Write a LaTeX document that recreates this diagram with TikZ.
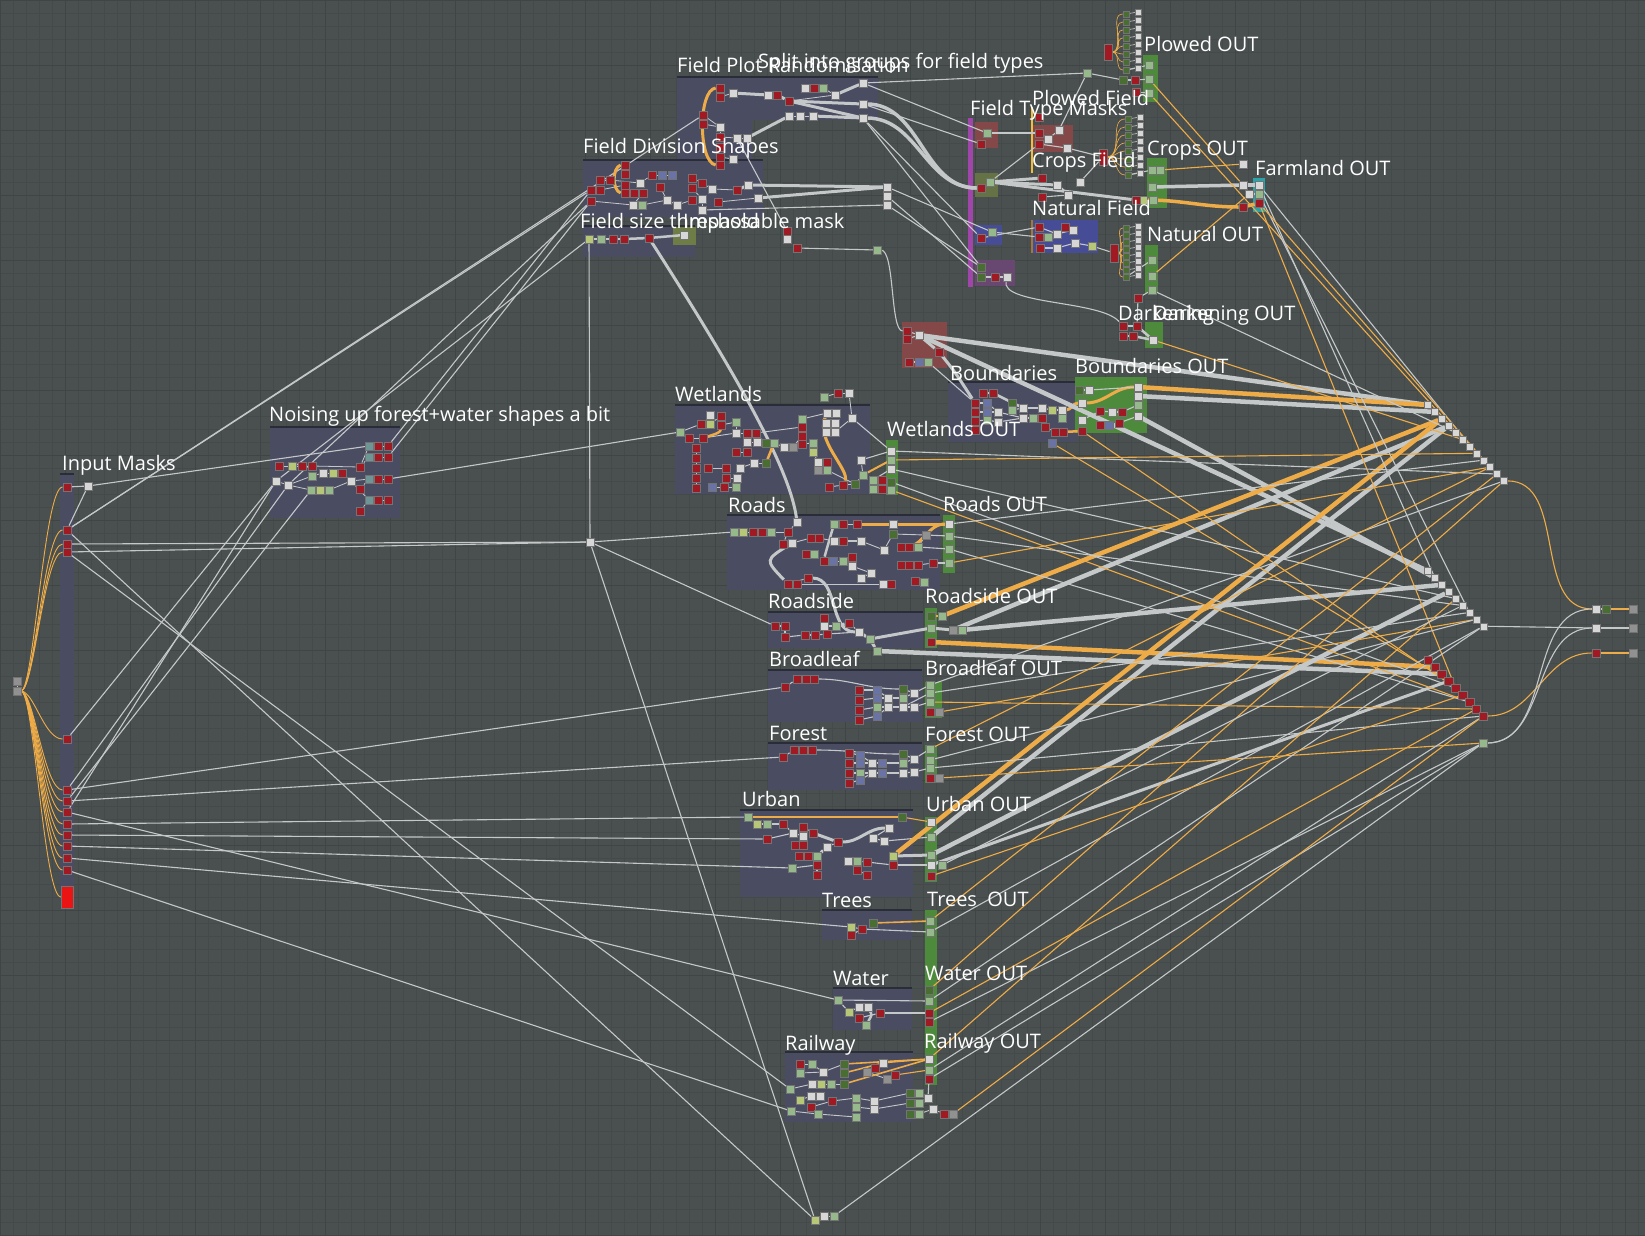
\documentclass[tikz,border=0pt]{standalone}
\usepackage{fontspec}
\setmainfont{Open Sans}
\usetikzlibrary{positioning}
\definecolor{canvas}{RGB}{74,80,79}
\definecolor{gridln}{RGB}{68,74,73}
\definecolor{gridmaj}{RGB}{63,69,68}
\definecolor{framebg}{RGB}{74,76,98}
\definecolor{framedark}{RGB}{42,44,56}
\definecolor{nodered}{RGB}{160,25,35}
\definecolor{hotred}{RGB}{235,20,20}
\definecolor{nodewhite}{RGB}{215,215,215}
\definecolor{nodegreen}{RGB}{150,185,140}
\definecolor{nodedark}{RGB}{72,110,50}
\definecolor{nodeolive}{RGB}{182,200,120}
\definecolor{nodeblue}{RGB}{105,115,165}
\definecolor{nodegrey}{RGB}{145,145,145}
\definecolor{nodeteal}{RGB}{110,150,150}
\definecolor{outgreen}{RGB}{78,138,60}
\definecolor{farmteal}{RGB}{40,165,170}
\definecolor{boxred}{RGB}{132,72,72}
\definecolor{boxolive}{RGB}{100,114,70}
\definecolor{boxblue}{RGB}{70,76,150}
\definecolor{boxpurple}{RGB}{104,72,112}
\definecolor{barpurple}{RGB}{160,70,170}
\definecolor{olivebox}{RGB}{110,125,70}
\definecolor{wiregrey}{RGB}{196,200,200}
\definecolor{wireorange}{RGB}{238,172,72}
\pgfdeclarelayer{back}
\pgfdeclarelayer{wires}
\pgfsetlayers{back,wires,main}
\newcommand{\frmbox}[4]{%
  \fill[framebg] (#1,#2) rectangle (#3,#4);
  \draw[framedark,line width=1.2pt] (#1,#2) -- (#3,#2);}

\begin{document}
\begin{tikzpicture}[x=1pt,y=-1pt,
    sq/.style={draw=black!55,line width=.3pt,inner sep=0pt,minimum size=7.5pt},
    rd/.style={sq,fill=nodered,minimum size=8.5pt},
    wt/.style={sq,fill=nodewhite},
    gn/.style={sq,fill=nodegreen},
    dg/.style={sq,fill=nodedark},
    ol/.style={sq,fill=nodeolive},
    bl/.style={sq,fill=nodeblue},
    gy/.style={sq,fill=nodegrey},
    tl/.style={sq,fill=nodeteal},
    ttl/.style={text=white,font=\fontsize{20}{24}\selectfont,anchor=base west,inner sep=0pt},
    wire/.style={draw=wiregrey,line width=1.1pt},
    fat/.style={draw=wiregrey,line width=4.5pt},
    owire/.style={draw=wireorange,line width=1.1pt},
    ofat/.style={draw=wireorange,line width=4.5pt}
  ]
  \useasboundingbox (0,0) rectangle (1645,1235);

  % canvas, grid, frames
  \begin{pgfonlayer}{back}
    \fill[canvas] (0,0) rectangle (1645,1235);
    \foreach \g in {0,13,...,1645} \draw[gridln,line width=.5pt] (\g,0) -- (\g,1235);
    \foreach \g in {0,13,...,1235} \draw[gridln,line width=.5pt] (0,\g) -- (1645,\g);
    \foreach \g in {0,65,...,1645} \draw[gridmaj,line width=.8pt] (\g,0) -- (\g,1235);
    \foreach \g in {0,65,...,1235} \draw[gridmaj,line width=.8pt] (0,\g) -- (1645,\g);
    \frmbox{60}{474}{74}{902}
    \frmbox{270}{427}{400}{518}
    \frmbox{677}{77}{752}{205}
    \frmbox{752}{77}{878}{120}
    \frmbox{583}{160}{763}{217}
    \frmbox{583}{226}{695}{257}
    \frmbox{675}{405}{870}{494}
    \frmbox{948}{382}{1077}{442}
    \frmbox{727}{515}{940}{590}
    \frmbox{768}{612}{923}{648}
    \frmbox{768}{670}{922}{722}
    \frmbox{768}{743}{922}{790}
    \frmbox{740}{810}{913}{897}
    \frmbox{822}{910}{912}{940}
    \frmbox{833}{988}{912}{1030}
    \frmbox{785}{1052}{913}{1122}
    \fill[olivebox] (673,227) rectangle (696,245);
    % field type masks
    \fill[barpurple] (968,118) rectangle (973,287);
    \fill[boxred] (975,122) rectangle (998,148);
    \fill[boxolive] (975,173) rectangle (998,197);
    \fill[boxblue] (975,225) rectangle (1002,245);
    \fill[boxpurple] (975,260) rectangle (1015,286);
    \fill[boxred] (1033,125) rectangle (1073,152);
    \draw[wireorange!80!yellow,line width=2pt] (1032,107) -- (1032,173);
    \fill[boxblue] (1032,220) rectangle (1098,253);
    \draw[wireorange!70!black,line width=2pt] (1032,220) -- (1032,253);
    \fill[boxred] (902,322) rectangle (947,368);
    % OUT panels
    \fill[outgreen] (1143,55) rectangle (1158,102);
    \fill[outgreen] (1147,158) rectangle (1167,208);
    \fill[outgreen] (1145,245) rectangle (1158,293);
    \fill[outgreen] (1145,322) rectangle (1163,348);
    \fill[farmteal] (1253,178) rectangle (1265,212);
    \fill[outgreen] (1075,377) rectangle (1147,433);
    \fill[outgreen] (886,440) rectangle (898,495);
    \fill[outgreen] (943,515) rectangle (955,573);
    \fill[outgreen] (925,608) rectangle (937,648);
    \fill[outgreen] (925,682) rectangle (942,718);
    \fill[outgreen] (925,745) rectangle (937,783);
    \fill[outgreen] (925,817) rectangle (937,882);
    \fill[outgreen] (925,910) rectangle (937,1085);
  \end{pgfonlayer}

  % Input Masks
  \foreach \y [count=\i] in {487,530,544,552,739,790,801,812,824,835,846,858,870}
    \node[rd] (im\i) at (67,\y) {};
  \node[sq,fill=hotred,minimum width=12pt,minimum height=22pt] (imout) at (67,897) {};
  \node[wt] (imw) at (88,486) {};
  \node[gy] (src1) at (17,681) {};
  \node[gy] (src2) at (17,691) {};

  % Noising
  \foreach \x/\y/\s [count=\i] in {279/466/rd,292/466/ol,302/466/rd,312/466/rd,276/481/wt,
      288/485/wt,312/476/gn,323/473/wt,333/473/ol,342/473/rd,311/490/gn,320/490/ol,329/490/gn,
      351/481/wt,360/467/rd,360/489/rd,360/511/rd,369/446/tl,378/446/rd,388/446/rd,369/457/tl,
      378/457/rd,388/457/rd,369/479/tl,378/479/rd,388/479/rd,369/500/tl,378/500/rd,388/500/rd}
    \node[\s] (nz\i) at (\x,\y) {};

  % Field Plot Randomisation / Split
  \foreach \x/\y/\s [count=\i] in {720/88/rd,720/97/rd,733/93/wt,703/115/rd,703/124/rd,
      720/127/wt,720/137/rd,720/147/rd,720/157/rd,720/165/rd,733/159/wt,737/138/wt,747/138/wt}
    \node[\s] (pl\i) at (\x,\y) {};
  \foreach \x/\y/\s [count=\i] in {768/95/wt,777/95/rd,789/101/rd,805/88/wt,814/88/rd,
      823/88/gn,835/95/wt,789/116/wt,800/116/wt,813/116/wt,863/83/wt,863/104/wt,863/118/wt}
    \node[\s] (sp\i) at (\x,\y) {};

  % Field Division Shapes / size threshold / impassable
  \foreach \x/\y/\s [count=\i] in {600/180/rd,610/180/rd,591/190/rd,600/190/rd,591/201/rd,
      625/165/rd,625/174/rd,625/185/rd,625/193/rd,634/193/rd,643/193/rd,652/175/rd,660/187/rd,
      640/183/wt,633/205/wt,642/205/gn,662/175/bl,672/175/bl,667/200/wt,677/205/wt,692/178/rd,
      692/188/rd,692/200/rd,702/183/rd,702/199/wt,702/210/wt,712/189/wt,718/202/rd,737/190/rd,
      748/185/wt,758/198/wt}
    \node[\s] (dv\i) at (\x,\y) {};
  \foreach \y [count=\i] in {187,196,205} \node[wt] (dr\i) at (887,\y) {};
  \foreach \x/\y/\s [count=\i] in {589/239/ol,601/239/gn,613/239/rd,624/239/rd,649/238/rd,684/235/wt}
    \node[\s] (sz\i) at (\x,\y) {};
  \foreach \x/\y/\s [count=\i] in {787/231/rd,787/239/wt,797/248/rd,877/250/gn}
    \node[\s] (ip\i) at (\x,\y) {};

  % Field Type Masks and fields
  \foreach \x/\y/\s [count=\i] in {987/133/gn,981/144/rd,990/182/gn,981/188/rd,992/232/gn,
      981/238/rd,981/267/dg,981/277/dg,995/277/rd,1007/277/wt}
    \node[\s] (ft\i) at (\x,\y) {};
  \foreach \x/\y/\s [count=\i] in {1039/117/rd,1039/133/rd,1039/144/rd,1048/139/wt,1059/130/wt,1067/148/wt}
    \node[\s] (pf\i) at (\x,\y) {};
  \foreach \x/\y/\s [count=\i] in {1042/178/rd,1042/197/rd,1057/185/wt,1068/195/wt,1080/182/wt}
    \node[\s] (cf\i) at (\x,\y) {};
  \node[rd,minimum height=16pt] (cfr) at (1103,157) {};
  \foreach \x/\y/\s [count=\i] in {1039/227/rd,1039/237/rd,1040/248/rd,1065/227/rd,1048/237/gn,
      1057/234/wt,1073/230/wt,1057/248/wt,1075/243/wt,1092/246/ol}
    \node[\s] (nf\i) at (\x,\y) {};
  \node[rd,minimum height=18pt] (nfr) at (1114,253) {};

  % OUT columns (plowed, crops, natural)
  \foreach \k in {0,...,7} {
    \node[wt,minimum size=6pt] (pw\k) at (1138,{12+8*\k}) {};
    \node[dg,minimum size=6pt] (pg\k) at (1126,{14+8*\k}) {};
    \node[wt,minimum size=6pt] (cw\k) at (1140,{117+8*\k}) {};
    \node[dg,minimum size=6pt] (cg\k) at (1128,{119+8*\k}) {};
    \node[wt,minimum size=6pt] (nw\k) at (1138,{226+7*\k}) {};
    \node[dg,minimum size=6pt] (ng\k) at (1126,{228+7*\k}) {};
  }
  \node[rd,minimum height=16pt] (pr) at (1108,52) {};
  \node[gn] (po1) at (1149,65) {};
  \node[gn] (po2) at (1149,79) {};
  \node[gn] (po3) at (1149,93) {};
  \node[dg] (pgx) at (1123,80) {};
  \node[rd] (prx) at (1135,80) {};
  \node[rd] (pry) at (1136,92) {};
  \node[gn] (pq) at (1087,73) {};
  \node[gn] (co1) at (1152,170) {};
  \node[gn] (co2) at (1160,170) {};
  \node[gn] (co3) at (1152,187) {};
  \node[ol] (co4) at (1143,200) {};
  \node[gn] (co5) at (1153,200) {};
  \node[rd] (crd) at (1136,200) {};
  \node[gn] (no1) at (1152,260) {};
  \node[gn] (no2) at (1152,276) {};
  \node[gn] (no3) at (1152,290) {};
  \node[rd] (nrd) at (1138,298) {};
  % Farmland
  \node[wt] (fw1) at (1243,164) {};
  \node[wt] (fw2) at (1243,185) {};
  \node[wt] (fw3) at (1249,194) {};
  \node[rd] (fw4) at (1243,207) {};
  \node[wt] (fa1) at (1259,185) {};
  \node[gn] (fa2) at (1259,194) {};
  \node[rd] (fa3) at (1259,203) {};
  % Darkening
  \node[rd] (dk1) at (1123,326) {};
  \node[rd] (dk2) at (1137,326) {};
  \node[rd] (dk3) at (1123,336) {};
  \node[rd] (dk4) at (1133,336) {};
  \node[wt] (dko) at (1153,340) {};

  % red box, Boundaries
  \foreach \x/\y/\s [count=\i] in {907/331/rd,907/339/rd,919/335/wt,939/352/rd,909/362/rd,919/362/bl,928/362/gn}
    \node[\s] (rb\i) at (\x,\y) {};
  \foreach \x/\y/\s [count=\i] in {983/393/rd,993/393/rd,975/403/rd,975/412/rd,975/421/rd,
      975/430/rd,987/403/bl,987/412/bl,987/420/gn,998/412/wt,998/422/wt,1012/403/dg,1012/410/gn,
      1023/408/wt,1023/418/wt,1033/418/gn,1042/408/wt,1042/418/rd,1045/427/rd,1055/432/rd,
      1063/432/rd,1052/410/ol,1062/410/wt,1062/418/gn,1052/443/bl}
    \node[\s] (bd\i) at (\x,\y) {};
  \foreach \x/\y/\s [count=\i] in {1079/390/dg,1089/390/wt,1082/403/wt,1082/420/wt,1082/431/rd,
      1100/411/rd,1100/425/rd,1112/412/wt,1109/425/bl,1122/412/rd,1119/423/rd}
    \node[\s] (bx\i) at (\x,\y) {};
  \foreach \y/\s [count=\i] in {387/wt,396/wt,405/gn,416/wt}
    \node[\s] (bo\i) at (1138,\y) {};

  % Wetlands
  \foreach \x/\y/\s [count=\i] in {680/432/gn,710/415/wt,701/424/rd,710/424/ol,721/416/rd,
      721/425/rd,736/422/gn,689/438/rd,703/438/rd,696/448/rd,696/458/rd,696/468/rd,696/478/rd,
      696/488/rd,736/433/wt,747/433/rd,756/433/rd,747/442/wt,757/442/wt,736/452/rd,747/452/rd,
      708/468/rd,726/468/rd,740/468/wt,726/478/rd,737/478/wt,712/487/bl,724/487/rd,736/487/gn,
      754/463/wt,766/463/dg,766/443/dg,774/443/gn,784/447/wt,793/447/gy,802/427/rd,802/436/rd,
      802/444/rd,813/443/gn,813/452/ol,818/462/wt,827/462/rd,818/470/gy,827/470/gn,829/487/rd,
      843/485/rd,855/484/dg,863/475/gn,861/460/wt,873/480/gn,873/489/gn,882/480/rd,882/489/rd,
      824/397/gn,838/393/rd,849/393/wt,827/413/wt,836/413/wt,826/423/wt,835/423/wt,826/432/wt,
      835/432/wt,852/418/wt,802/419/gn}
    \node[\s] (wl\i) at (\x,\y) {};
  \foreach \y/\s [count=\i] in {451/wt,460/gn,469/wt,482/dg,490/gn}
    \node[\s] (wo\i) at (891,\y) {};

  % Roads
  \foreach \x/\y/\s [count=\i] in {734/532/gn,743/532/ol,753/532/rd,762/532/rd,771/532/gn,
      788/532/rd,797/522/wt,783/544/rd,792/543/wt,811/538/rd,819/538/rd,834/524/gn,843/524/rd,
      857/524/rd,893/524/wt,834/541/wt,843/541/rd,861/541/wt,806/554/rd,814/554/gn,824/561/rd,
      833/561/bl,843/561/gn,852/557/rd,852/566/wt,871/573/wt,861/578/wt,808/578/rd,788/584/rd,
      797/584/rd,883/584/wt,891/584/rd,884/550/wt,893/534/dg,926/535/gy,901/547/rd,909/547/rd,
      918/547/gn,901/565/rd,909/565/rd,918/565/rd,933/563/rd,915/581/rd,924/582/gn}
    \node[\s] (rw\i) at (\x,\y) {};
  \foreach \y/\s [count=\i] in {524/wt,536/gn,549/gn,563/gn}
    \node[\s] (rwo\i) at (949,\y) {};

  % Roadside
  \foreach \x/\y/\s [count=\i] in {775/626/rd,785/626/rd,785/637/rd,805/635/rd,815/635/rd,
      827/634/rd,824/618/rd,824/626/wt,836/626/gn,849/623/rd,859/632/wt,870/639/gn,877/651/gn}
    \node[\s] (sd\i) at (\x,\y) {};
  \foreach \x/\y/\s [count=\i] in {931/616/dg,942/616/gn,931/628/gn,931/642/rd,953/630/gy,962/630/gn}
    \node[\s] (sdo\i) at (\x,\y) {};

  % Broadleaf
  \foreach \x/\y/\s [count=\i] in {785/687/rd,797/679/rd,806/679/rd,814/679/rd,859/690/rd,
      859/700/rd,859/710/rd,859/720/rd,877/690/bl,877/698/bl,877/707/gn,877/716/bl,888/698/wt,
      888/707/wt,903/689/dg,903/698/gn,903/707/wt,914/693/wt,914/707/wt}
    \node[\s] (bf\i) at (\x,\y) {};
  \foreach \x/\y/\s [count=\i] in {930/685/gn,930/693/gn,930/702/gn,930/712/rd,939/712/gy}
    \node[\s] (bfo\i) at (\x,\y) {};

  % Forest
  \foreach \x/\y/\s [count=\i] in {783/757/rd,794/750/rd,803/750/rd,812/750/rd,849/753/rd,
      849/763/rd,849/773/rd,849/783/rd,860/755/bl,860/763/bl,860/773/gn,860/780/bl,872/763/wt,
      872/773/wt,882/763/bl,882/773/bl,903/754/dg,903/763/gn,903/773/wt,914/759/wt,914/772/wt}
    \node[\s] (fr\i) at (\x,\y) {};
  \foreach \x/\y/\s [count=\i] in {930/749/gn,930/760/gn,930/768/gn,930/778/rd,939/778/gy}
    \node[\s] (fro\i) at (\x,\y) {};

  % Urban
  \foreach \x/\y/\s [count=\i] in {748/817/gn,757/824/ol,767/824/gn,783/824/rd,767/839/rd,
      793/833/wt,803/827/rd,803/836/wt,795/845/rd,803/845/rd,813/833/rd,827/847/wt,838/842/rd,
      873/838/wt,884/841/wt,889/828/wt,799/856/rd,808/856/rd,817/856/gn,817/865/rd,817/875/rd,
      792/868/gn,848/861/wt,857/861/gn,867/862/rd,857/870/rd,867/875/rd,893/856/ol,893/865/rd,
      902/817/dg}
    \node[\s] (ub\i) at (\x,\y) {};
  \foreach \x/\y/\s [count=\i] in {931/822/wt,931/837/gn,931/855/gn,931/865/wt,942/865/gn,931/876/rd}
    \node[\s] (ubo\i) at (\x,\y) {};

  % Trees, Water
  \foreach \x/\y/\s [count=\i] in {851/927/ol,862/929/rd,851/935/rd,873/923/dg}
    \node[\s] (tr\i) at (\x,\y) {};
  \node[gn] (tro1) at (930,921) {};
  \node[gn] (tro2) at (930,932) {};
  \foreach \x/\y/\s [count=\i] in {838/1000/gn,849/1012/ol,859/1007/wt,868/1007/wt,859/1018/rd,866/1025/gn,880/1013/rd}
    \node[\s] (wa\i) at (\x,\y) {};
  \foreach \y/\s [count=\i] in {990/dg,1001/gn,1013/rd,1022/rd}
    \node[\s] (wao\i) at (929,\y) {};

  % Railway
  \foreach \x/\y/\s [count=\i] in {800/1064/rd,812/1064/gn,800/1073/gn,823/1072/wt,790/1089/gn,
      812/1084/wt,821/1084/ol,831/1084/gn,844/1064/dg,844/1073/dg,844/1084/dg,883/1063/wt,
      875/1068/rd,867/1072/gy,895/1075/rd,887/1079/gy,800/1100/ol,811/1096/wt,820/1096/wt,
      811/1107/rd,832/1101/rd,818/1114/gn,791/1111/gn,856/1098/gn,856/1107/gn,856/1117/gn,
      874/1101/wt,874/1109/wt,910/1093/dg,910/1103/dg,910/1114/dg,919/1093/gn,919/1103/gn,
      919/1114/gn,928/1098/wt,933/1109/wt,944/1114/rd,953/1114/gy}
    \node[\s] (rl\i) at (\x,\y) {};
  \foreach \y/\s [count=\i] in {1059/wt,1070/gn,1079/rd}
    \node[\s] (rlo\i) at (929,\y) {};

  % hub, bottom, right-hand stairs and outputs
  \node[wt] (ce) at (590,542) {};
  \node[ol] (bt1) at (815,1220) {};
  \node[wt] (bt2) at (824,1216) {};
  \node[gn] (bt3) at (834,1216) {};
  \foreach \i in {1,...,12} \node[wt,minimum size=7pt] (sa\i) at ({1428+6.9*(\i-1)},{405+6.9*(\i-1)}) {};
  \foreach \i in {1,...,9} \node[wt,minimum size=7pt] (sb\i) at ({1428+6.9*(\i-1)},{571+6.9*(\i-1)}) {};
  \foreach \i in {1,...,9} \node[rd] (sc\i) at ({1428+6.9*(\i-1)},{660+7*(\i-1)}) {};
  \node[gn] (gg) at (1483,743) {};
  \node[wt] (f1) at (1596,609) {};
  \node[dg] (f1g) at (1606,609) {};
  \node[gy] (f1o) at (1633,609) {};
  \node[wt] (f2) at (1596,628) {};
  \node[gy] (f2o) at (1633,628) {};
  \node[rd] (f3) at (1596,653) {};
  \node[gy] (f3o) at (1633,653) {};

  \begin{pgfonlayer}{wires}
    % input masks
    \foreach \y [count=\i] in {487,530,544,552,739,790,801,812,824,835,846,858,870}
      \draw[owire,line width=.9pt] (src2.east) .. controls (34,691) and (44,\y) .. (im\i.west);
    \draw[owire,line width=.9pt] (src2.east) .. controls (34,691) and (44,897) .. (imout.west);
    \draw[wire,line width=.8pt] (src1) -- (src2);
    \draw[wire] (im1) -- (imw);
    \draw[wire] (im2) -- (imw);
    \draw[wire] (imw) -- (nz18);
    \draw[wire] (im2) -- (pl4);
    \draw[wire] (im2) -- (dv3);
    \draw[wire] (im3) -- (ce);
    \draw[wire] (im4) -- (ce);
    \draw[wire] (im2) -- (bt1);
    \draw[wire] (im4) -- (rl5);
    \draw[wire] (im5) -- (nz5);
    \draw[wire] (im6) -- (nz6);
    \draw[wire] (im6) -- (bf1);
    \draw[wire] (im7) -- (nz11);
    \draw[wire] (im7) -- (fr1);
    \draw[wire] (im8) -- (nz5);
    \draw[wire] (im8) -- (wa1);
    \draw[wire] (im9) -- (ub1);
    \draw[wire] (im10) -- (ub5);
    \draw[wire] (im11) -- (ub22);
    \draw[wire] (im12) -- (tr1);
    \draw[wire] (im13) -- (rl23);
    % noising
    \foreach \a/\b in {1/2,2/3,3/4,5/6,6/7,7/8,8/9,9/10,6/11,11/12,12/13,13/14,10/14,4/15,15/18,
        15/21,14/24,16/24,14/27,17/27,18/19,19/20,21/22,22/23,24/25,25/26,27/28,28/29}
      \draw[wire,line width=.8pt] (nz\a) -- (nz\b);
    \draw[wire] (nz20) -- (dv3);
    \draw[wire] (nz23) -- (dv5);
    \draw[wire] (nz26) -- (wl1);
    \draw[wire] (nz5) -- (sz1);
    \draw[wire] (nz6) -- (dv5);
    % hub
    \draw[wire] (sz1) -- (ce);
    \draw[wire] (ce) -- (rw1);
    \draw[wire] (ce) -- (sd1);
    \draw[wire] (ce) -- (bt1);
    \draw[fat,line width=3pt] (sz5) .. controls (740,380) and (790,470) .. (rw7);
    % field plot, split
    \foreach \a/\b in {4/6,5/6,6/7,7/12,12/13,9/11,2/3}
      \draw[wire,line width=.8pt] (pl\a) -- (pl\b);
    \draw[ofat,line width=3pt] (pl1.west) .. controls (698,90) and (698,162) .. (pl10.west);
    \draw[fat,line width=3pt] (pl3) -- (sp1);
    \foreach \a/\b in {1/2,2/3,3/12,3/13,7/11,10/13}
      \draw[fat,line width=3pt] (sp\a) -- (sp\b);
    \draw[fat,line width=3pt] (pl13) -- (sp8);
    \foreach \a/\b in {3/7,4/5,5/6,6/7,8/9,9/10}
      \draw[wire,line width=.8pt] (sp\a) -- (sp\b);
    \draw[fat,line width=3.5pt] (sp12) to[out=0,in=180] (ft4);
    \draw[fat,line width=3.5pt] (sp13) to[out=0,in=180] (ft4);
    \draw[wire] (sp11) -- (ft1);
    \draw[wire] (sp11) -- (pq);
    \draw[wire] (sp12) -- (ft2);
    \draw[wire] (sp13) -- (ft6);
    \draw[wire] (sp13) -- (ft7);
    \draw[wire] (pl12) -- (ip1);
    % field division, threshold
    \foreach \a/\b in {1/2,3/4,4/8,5/15,14/12,15/16,16/19,19/20,12/17,17/18,13/19,20/23,21/24,
        24/27,22/25,25/26,27/29,28/31,2/14,11/15}
      \draw[wire,line width=.8pt] (dv\a) -- (dv\b);
    \draw[ofat,line width=3pt] (dv6.west) .. controls (612,168) and (612,190) .. (dv9.west);
    \draw[fat,line width=3pt] (dv29) -- (dv30);
    \draw[fat,line width=3pt] (dv30) -- (dr1);
    \draw[fat,line width=3pt] (dv31) -- (dr1);
    \draw[wire] (dv26) -- (dr3);
    \draw[wire] (dr1) -- (ft5);
    \draw[wire] (dr2) -- (ft8);
    \draw[wire] (dr3) -- (ft7);
    \foreach \a/\b in {1/2,2/3,3/4,4/5,5/6}
      \draw[fat,line width=2.5pt] (sz\a) -- (sz\b);
    \draw[wire] (ip1) -- (ip2);
    \draw[wire] (ip3) -- (ip4);
    \draw[wire] (ip4) .. controls (895,250) and (890,331) .. (rb1);
    % field type masks, fields
    \draw[wire] (ft1) -- (pf2);
    \draw[wire] (ft3) -- (pf3);
    \draw[fat,line width=3pt] (ft3) -- (cf1);
    \draw[fat,line width=3pt] (ft3) -- (cf3);
    \draw[fat,line width=3pt] (cf3) -- (cf4);
    \draw[fat,line width=3pt] (ft3) -- (crd);
    \draw[wire] (ft5) -- (nf2);
    \draw[wire] (ft6) -- (nf1);
    \draw[wire] (ft8) -- (ft9);
    \draw[wire] (ft9) -- (ft10);
    \draw[wire] (ft10) .. controls (1000,305) and (1100,300) .. (dk1);
    \foreach \a/\b in {2/4,4/5,3/6}
      \draw[wire] (pf\a) -- (pf\b);
    \draw[wire] (pf6) -- (cfr);
    \draw[wire] (pf5) -- (pq);
    \draw[wire] (cf2) -- (cf4);
    \draw[wire] (cf5) -- (cfr);
    \foreach \a/\b in {1/6,2/5,5/6,6/7,3/8,8/9,9/10,4/7}
      \draw[wire] (nf\a) -- (nf\b);
    \draw[wire] (nf10) -- (nfr);
    \foreach \k in {0,...,7} {
      \draw[owire,line width=.6pt] (pr) to[out=0,in=180] (pg\k);
      \draw[wire,line width=.6pt] (pg\k) -- (pw\k);
      \draw[owire,line width=.6pt] (cfr) to[out=0,in=180] (cg\k);
      \draw[wire,line width=.6pt] (cg\k) -- (cw\k);
      \draw[owire,line width=.6pt] (nfr) to[out=0,in=180] (ng\k);
      \draw[wire,line width=.6pt] (ng\k) -- (nw\k);
    }
    \draw[wire] (pq) -- (pgx);
    \draw[wire] (pgx) -- (prx);
    \draw[wire] (prx) -- (po2);
    \draw[wire] (pry) -- (po3);
    \draw[wire] (pg7) -- (po1);
    \draw[wire] (cg7) -- (co1);
    \draw[wire] (co1) -- (co2);
    \draw[wire] (crd) -- (co4);
    \draw[wire] (ng7) -- (no1);
    \draw[wire] (nrd) -- (no3);
    % farmland
    \draw[fat,line width=3.5pt] (co3) -- (fw2);
    \draw[fat,line width=3.5pt] (fw2) -- (fa1);
    \draw[ofat,line width=3.5pt] (co4) to[out=0,in=180] (fw4);
    \draw[ofat,line width=3.5pt] (fw4) -- (fa3);
    \draw[owire] (co2) -- (fw1);
    \draw[owire] (po2) -- (fw2);
    \draw[owire] (no2) -- (fw3);
    \draw[wire] (fw3) -- (fa2);
    % darkening
    \draw[wire] (dk1) -- (dk2);
    \draw[wire] (dk3) -- (dk4);
    \draw[fat,line width=2.5pt] (dk2) -- (dko);
    \draw[fat,line width=2.5pt] (dk4) -- (dko);
    \draw[wire] (nrd) -- (dk2);
    % red box, boundaries
    \draw[wire] (rb1) -- (rb3);
    \draw[wire] (rb2) -- (rb3);
    \draw[wire] (rb5) -- (rb6);
    \draw[wire] (rb6) -- (rb7);
    \draw[fat,line width=3pt] (rb3) -- (rb4);
    \draw[fat,line width=3pt] (rb4) .. controls (955,372) .. (bd3);
    \draw[wire] (rb7) -- (bd3);
    \foreach \a/\b in {1/2,3/7,4/8,5/9,7/10,8/10,9/11,2/12,12/13,13/14,14/17,15/16,16/18,18/19,
        19/20,20/21,17/22,22/23,23/24,10/15,11/15}
      \draw[wire] (bd\a) -- (bd\b);
    \draw[fat,line width=2.5pt] (bd2) -- (bd14);
    \draw[ofat,line width=3pt] (bd23) to[out=0,in=180] (bx3);
    \draw[ofat,line width=2.5pt] (bd21) -- (bx5);
    \draw[ofat,line width=3pt] (bx3) to[out=0,in=180] (bo1);
    \foreach \a/\b in {1/2,6/8,8/10,7/9,9/11,4/6}
      \draw[wire] (bx\a) -- (bx\b);
    \draw[wire] (bx2) -- (bo1);
    \draw[wire] (bx10) -- (bo3);
    \draw[wire] (bx11) -- (bo4);
    % wetlands
    \foreach \a/\b in {1/3,1/8,3/4,4/5,8/9,9/15,6/7,7/15,15/16,16/17,18/19,20/21,10/11,11/12,
        12/13,13/14,22/23,24/30,25/26,27/28,28/29,30/31,19/32,32/33,33/34,34/35,35/37,38/39,
        39/40,40/41,41/42,43/44,44/47,45/46,46/47,47/48,48/49,50/52,51/53,54/55,55/56,56/63,
        57/58,59/60,61/62,62/63,64/57,17/36}
      \draw[wire,line width=.9pt] (wl\a) -- (wl\b);
    \draw[ofat,line width=2.5pt] (wl5) .. controls (722,432) .. (wl9);
    \draw[ofat,line width=3pt] (wl57) .. controls (815,440) and (850,470) .. (wl46);
    \draw[ofat,line width=2.5pt] (wl31) -- (wl33);
    \draw[wire] (wl63) -- (wo1);
    \draw[wire] (wl49) -- (wo1);
    \draw[wire] (wl52) -- (wo4);
    \draw[wire] (wl53) -- (wo5);
    \draw[owire,line width=2pt] (wl48) -- (wo2);
    \draw[wire] (wl50) -- (wo3);
    % roads
    \foreach \a/\b in {1/2,2/3,3/4,4/5,5/6,6/7,6/8,8/9,9/10,10/11,11/16,12/13,13/14,16/17,17/18,
        18/33,19/20,21/22,22/23,23/24,24/25,25/26,27/26,28/29,29/30,30/31,31/32,33/34,34/35,
        36/37,37/38,39/40,40/41,41/42,43/44,35/38}
      \draw[wire,line width=.9pt] (rw\a) -- (rw\b);
    \draw[fat,line width=3pt] (rw9) .. controls (765,560) .. (rw29);
    \draw[fat,line width=2.5pt] (rw16) -- (rw18);
    \draw[fat,line width=2.5pt] (rw12) .. controls (825,555) .. (rw21);
    \draw[ofat,line width=3pt] (rw14) -- (rw15);
    \draw[ofat,line width=3pt] (rw15) -- (rwo1);
    \draw[ofat,line width=3pt] (rw36) to[out=0,in=180] (rwo1);
    \draw[wire] (rw35) -- (rwo2);
    \draw[wire] (rw38) -- (rwo3);
    \draw[wire] (rw42) -- (rwo4);
    \draw[fat,line width=3pt] (rw28) to[out=0,in=180] (sd11);
    % roadside
    \foreach \a/\b in {1/2,2/3,3/4,4/5,5/6,7/8,8/9,6/11,10/11}
      \draw[wire] (sd\a) -- (sd\b);
    \draw[fat,line width=3pt] (sd9) -- (sd10);
    \draw[fat,line width=3pt] (sd11) -- (sd12);
    \draw[fat,line width=3pt] (sd12) -- (sdo3);
    \draw[fat,line width=3pt] (sd12) -- (sd13);
    \draw[owire,line width=2pt] (sdo1) -- (sdo2);
    \draw[fat,line width=3pt] (sdo3) -- (sdo5);
    \draw[fat,line width=3pt] (sdo5) -- (sdo6);
    % broadleaf, forest
    \foreach \a/\b in {1/2,2/3,3/4,5/9,6/10,7/11,8/12,9/13,10/13,11/14,12/14,13/16,14/17,15/18,16/18,17/19}
      \draw[wire] (bf\a) -- (bf\b);
    \draw[wire] (bf4) to[out=0,in=180] (bf15);
    \draw[wire] (bf18) -- (bfo1);
    \draw[wire] (bf17) -- (bfo2);
    \draw[wire] (bf19) -- (bfo3);
    \draw[owire] (bfo4) -- (bfo5);
    \foreach \a/\b in {1/2,2/3,3/4,5/9,6/10,7/11,8/12,9/13,10/13,11/14,12/14,13/15,14/16,15/18,
        16/19,17/20,18/20,19/21}
      \draw[wire] (fr\a) -- (fr\b);
    \draw[wire] (fr4) to[out=0,in=180] (fr17);
    \draw[wire] (fr20) -- (fro1);
    \draw[wire] (fr21) -- (fro3);
    \draw[owire] (fro4) -- (fro5);
    % urban
    \foreach \a/\b in {2/3,3/4,4/6,5/6,6/8,7/11,13/12,16/14,14/15,17/18,18/19,19/20,20/21,22/20,
        23/24,24/25,26/27,9/10,25/29}
      \draw[wire] (ub\a) -- (ub\b);
    \draw[owire] (ub1) -- (ub30);
    \draw[owire] (ub30) -- (ubo1);
    \draw[fat,line width=3pt] (ub11) -- (ub13);
    \draw[fat,line width=3pt] (ub12) -- (ub19);
    \draw[fat,line width=3pt] (ub13) to[out=0,in=180] (ub16);
    \draw[fat,line width=3pt] (ub28) -- (ubo3);
    \draw[wire] (ub15) -- (ubo2);
    \draw[wire] (ub29) -- (ubo4);
    % trees, water, railway
    \draw[wire] (tr1) -- (tr2);
    \draw[wire] (tr3) -- (tr2);
    \draw[owire,line width=1.6pt] (tr4) -- (tro1);
    \draw[wire] (tr2) -- (tro2);
    \draw[wire] (wa1) -- (wao2);
    \draw[wire] (wa1) -- (wa2);
    \draw[wire] (wa2) -- (wa3);
    \draw[wire] (wa3) -- (wa4);
    \draw[fat,line width=2.5pt] (wa4) .. controls (872,1015) .. (wa6);
    \draw[wire] (wa5) -- (wa7);
    \draw[wire] (wa7) -- (wao3);
    \foreach \a/\b in {1/2,2/4,3/4,5/6,6/7,7/8,8/11,17/18,18/19,20/21,21/24,24/27,25/28,27/29,
        28/30,29/32,30/33,31/34,32/35,34/36,36/37,37/38,13/14,14/16,22/26,23/22,4/9}
      \draw[wire,line width=.9pt] (rl\a) -- (rl\b);
    \draw[owire,line width=1.6pt] (rl9) -- (rlo1);
    \draw[owire,line width=1.6pt] (rl10) -- (rl12);
    \draw[owire,line width=1.6pt] (rl11) -- (rlo1);
    \draw[owire] (rl12) -- (rlo1);
    \draw[owire] (rl15) -- (rlo2);
    \draw[wire] (rl35) -- (rlo3);
    \draw[wire,line width=.8pt] (bt1) -- (bt2);
    \draw[wire,line width=.8pt] (bt2) -- (bt3);
    % long wires into the stairs
    \draw[fat] (rb3) -- (sa1);
    \draw[fat] (rb3) -- (sb1);
    \draw[ofat] (bo1) -- (sa1);
    \draw[fat] (bo2) -- (sa2);
    \draw[fat] (bo4) -- (sb2);
    \draw[ofat] (sdo2) -- (sa3);
    \draw[fat] (sdo5) -- (sa4);
    \draw[fat] (sdo6) -- (sb3);
    \draw[ofat] (sdo4) -- (sc2);
    \draw[fat] (sd13) -- (sc3);
    \draw[ofat] (ub28) -- (sa3);
    \draw[fat] (ubo2) -- (sa4);
    \draw[fat] (ubo3) -- (sb4);
    \draw[fat,line width=3pt] (ubo4) -- (sc4);
    \draw[owire] (po3) -- (sa7);
    \draw[wire] (no3) -- (sa5);
    \draw[owire] (dko) -- (sa6);
    \draw[wire] (fa1) -- (sa8);
    \draw[wire] (fa1) -- (sb2);
    \draw[wire] (fa2) -- (sb7);
    \draw[owire] (fa3) -- (sc5);
    \draw[owire] (fa3) -- (sa10);
    \draw[owire] (bd25) -- (sc4);
    \draw[owire] (bx5) -- (sc5);
    \draw[wire] (wo1) -- (sa11);
    \draw[owire] (wo2) -- (sa8);
    \draw[wire] (wo3) -- (sb5);
    \draw[wire] (wo4) -- (sc5);
    \draw[owire] (wo5) -- (sc7);
    \draw[wire] (rwo1) -- (sa9);
    \draw[wire] (rwo2) -- (sb6);
    \draw[wire] (rwo3) -- (sc7);
    \draw[owire] (rwo4) -- (sa10);
    \draw[wire] (bfo1) -- (sa12);
    \draw[wire] (bfo2) -- (sb7);
    \draw[owire] (bfo3) -- (sc8);
    \draw[owire] (bfo5) -- (sb8);
    \draw[owire] (fro1) -- (sa10);
    \draw[wire] (fro2) -- (sb8);
    \draw[wire] (fro3) -- (sc9);
    \draw[owire] (fro5) -- (gg);
    \draw[owire] (tro1) -- (sa11);
    \draw[wire] (tro2) -- (sb9);
    \draw[owire] (wao1) -- (sa12);
    \draw[wire] (wao2) -- (sb9);
    \draw[owire] (wao3) -- (sc8);
    \draw[wire] (wao4) -- (gg);
    \draw[owire] (rlo1) -- (sb5);
    \draw[wire] (rlo2) -- (sc9);
    \draw[wire] (rlo3) -- (gg);
    \draw[owire] (rl38) -- (sc9);
    \draw[wire] (bt3) -- (gg);
    \draw[wire] (ubo5) -- (sb6);
    \draw[owire] (ubo6) -- (sc6);
    % stairs to outputs
    \draw[owire] (sa12) to[out=0,in=180] (f1);
    \draw[wire] (sb9) -- (f2);
    \draw[owire] (sc9) to[out=0,in=180] (f3);
    \draw[wire] (gg) to[out=0,in=180] (f1);
    \draw[wire] (gg) to[out=0,in=180] (f2);
    \draw[wire] (f1) -- (f1g);
    \draw[owire,line width=2.5pt] (f1g) -- (f1o);
    \draw[wire,line width=1.5pt] (f2) -- (f2o);
    \draw[owire,line width=2.5pt] (f3) -- (f3o);
  \end{pgfonlayer}

  % frame titles
  \node[ttl] (tPlowOut) at (1144,51) {Plowed OUT};
  \node[ttl] (tPlot) at (677,72) {Field Plot Randomisation};
  \node[ttl] (tSplit) at (758,68) {Split into groups for field types};
  \node[ttl] (tPlowF) at (1032,105) {Plowed Field};
  \node[ttl] (tTypes) at (970,115) {Field Type Masks};
  \node[ttl] (tDiv) at (583,153) {Field Division Shapes};
  \node[ttl] (tCropOut) at (1147,155) {Crops OUT};
  \node[ttl] (tCropF) at (1032,167) {Crops Field};
  \node[ttl] (tFarm) at (1255,175) {Farmland OUT};
  \node[ttl] (tNatF) at (1032,215) {Natural Field};
  \node[ttl] (tSize) at (580,228) {Field size threshold};
  \node[ttl] (tImp) at (683,228) {Impassable mask};
  \node[ttl] (tNatOut) at (1147,241) {Natural OUT};
  \node[ttl] (tDark) at (1118,320) {Darkening};
  \node[ttl] (tDarkOut) at (1153,320) {Darkening OUT};
  \node[ttl] (tBoundOut) at (1075,373) {Boundaries OUT};
  \node[ttl] (tBound) at (950,380) {Boundaries};
  \node[ttl] (tWet) at (675,401) {Wetlands};
  \node[ttl] (tNoise) at (269,421) {Noising up forest+water shapes a bit};
  \node[ttl] (tWetOut) at (887,436) {Wetlands OUT};
  \node[ttl] (tInput) at (62,470) {Input Masks};
  \node[ttl] (tRoads) at (728,512) {Roads};
  \node[ttl] (tRoadsOut) at (943,511) {Roads OUT};
  \node[ttl] (tSideOut) at (925,603) {Roadside OUT};
  \node[ttl] (tSide) at (768,608) {Roadside};
  \node[ttl] (tBroad) at (769,666) {Broadleaf};
  \node[ttl] (tBroadOut) at (925,675) {Broadleaf OUT};
  \node[ttl] (tForest) at (769,740) {Forest};
  \node[ttl] (tForestOut) at (925,741) {Forest OUT};
  \node[ttl] (tUrban) at (742,806) {Urban};
  \node[ttl] (tUrbanOut) at (926,811) {Urban OUT};
  \node[ttl] (tTreesOut) at (927,906) {Trees\ \ OUT};
  \node[ttl] (tTrees) at (822,907) {Trees};
  \node[ttl] (tWaterOut) at (925,980) {Water OUT};
  \node[ttl] (tWater) at (833,985) {Water};
  \node[ttl] (tRailOut) at (924,1048) {Railway OUT};
  \node[ttl] (tRail) at (785,1050) {Railway};
\end{tikzpicture}
\end{document}
